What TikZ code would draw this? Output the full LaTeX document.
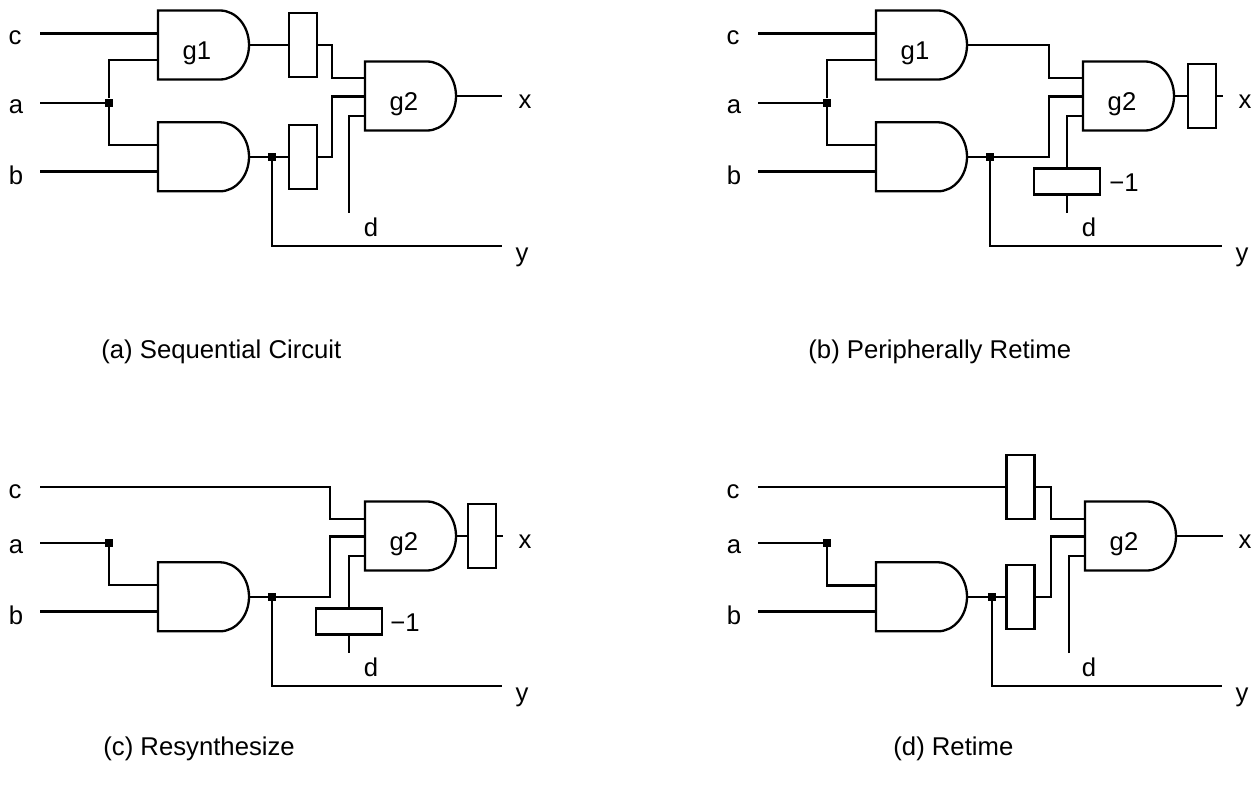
\documentclass[tikz,border=0pt]{standalone}
\usepackage{fontspec}
\setmainfont{Liberation Sans}

\tikzset{
  wire/.style={line width=1.15pt},
  lbl/.style={inner sep=0pt, font=\fontsize{12.85}{15}\selectfont},
  reg/.style={draw, line width=1.15pt, minimum width=14pt, minimum height=32pt, inner sep=0pt},
  negreg/.style={draw, line width=1.15pt, minimum width=33pt, minimum height=13pt, inner sep=0pt},
  joint/.style={fill, minimum size=4pt, inner sep=0pt},
}
% and gate: name, left edge, centre, text
\newcommand{\andgate}[4]{%
  \draw[wire] (#2,#3-34.5) -- ++(62,0)
    arc[start angle=-90, end angle=90, x radius=29, y radius=34.5]
    -- ++(-62,0) -- cycle;
  \node[lbl] (#1) at (#2+39,#3+8) {#4};
  \coordinate (#1-out) at (#2+91,#3);
}

\begin{document}
\begin{tikzpicture}[x=0.5pt, y=-0.5pt]
  \useasboundingbox (0,0) rectangle (1255,792);

  % (a) sequential circuit
  \begin{scope}[name prefix=a-]
    \node[lbl] (c) at (15,38) {c};
    \node[lbl] (a) at (16,107) {a};
    \node[lbl] (b) at (16,175) {b};
    \node[lbl] (x) at (525,102) {x};
    \node[lbl] (y) at (522,257) {y};
    \node[lbl] (d) at (371,227) {d};
    \coordinate (cin) at (40,33.5);
    \coordinate (ain) at (40,102.7);
    \coordinate (bin) at (40,171.5);
    \coordinate (dend) at (349,213);
    \coordinate (xend) at (502,96);
    \coordinate (yend) at (502,246);
    \andgate{g1}{158}{45}{g1}
    \coordinate (g1-in1) at (158,33.5);
    \coordinate (g1-in2) at (158,60);
    \andgate{g0}{158}{156.8}{}
    \coordinate (g0-in1) at (158,145);
    \coordinate (g0-in2) at (158,171.5);
    \andgate{g2}{365}{96}{g2}
    \coordinate (g2-in1) at (365,78.3);
    \coordinate (g2-in2) at (365,96.5);
    \coordinate (g2-in3) at (365,116.3);
    \node[joint] (ja) at (109,102.7) {};
    \node[joint] (jb) at (272,156.8) {};
    \node[reg] (r1) at (303,45) {};
    \node[reg] (r2) at (303,156.8) {};
    \draw[wire] (cin) -- (g1-in1);
    \draw[wire] (ain) -- (ja);
    \draw[wire] (ja) |- (g1-in2);
    \draw[wire] (ja) |- (g0-in1);
    \draw[wire] (bin) -- (g0-in2);
    \draw[wire] (g1-out) -- (r1.west);
    \draw[wire] (r1.east) -- ++(14,0) |- (g2-in1);
    \draw[wire] (g0-out) -- (jb) -- (r2.west);
    \draw[wire] (r2.east) -- ++(14,0) |- (g2-in2);
    \draw[wire] (dend) |- (g2-in3);
    \draw[wire] (g2-out) -- (xend);
    \draw[wire] (jb) |- (yend);
  \end{scope}

  % (b) peripherally retime
  \begin{scope}[shift={(718,0)}, name prefix=b-]
    \node[lbl] (c) at (15,38) {c};
    \node[lbl] (a) at (16,107) {a};
    \node[lbl] (b) at (16,175) {b};
    \node[lbl] (x) at (527,102) {x};
    \node[lbl] (y) at (524,257) {y};
    \node[lbl] (d) at (371,227) {d};
    \node[lbl] (m) at (406,183) {−1};
    \coordinate (cin) at (40,33.5);
    \coordinate (ain) at (40,102.7);
    \coordinate (bin) at (40,171.5);
    \coordinate (dend) at (349,213);
    \coordinate (xend) at (505,96);
    \coordinate (yend) at (504,246);
    \andgate{g1}{158}{45}{g1}
    \coordinate (g1-in1) at (158,33.5);
    \coordinate (g1-in2) at (158,60);
    \andgate{g0}{158}{156.8}{}
    \coordinate (g0-in1) at (158,145);
    \coordinate (g0-in2) at (158,171.5);
    \andgate{g2}{365}{96}{g2}
    \coordinate (g2-in1) at (365,78.3);
    \coordinate (g2-in2) at (365,96.5);
    \coordinate (g2-in3) at (365,116.3);
    \node[joint] (ja) at (109,102.7) {};
    \node[joint] (jb) at (272,156.8) {};
    \node[reg] (rx) at (484,96) {};
    \node[negreg] (rd) at (349,181.5) {};
    \draw[wire] (cin) -- (g1-in1);
    \draw[wire] (ain) -- (ja);
    \draw[wire] (ja) |- (g1-in2);
    \draw[wire] (ja) |- (g0-in1);
    \draw[wire] (bin) -- (g0-in2);
    \draw[wire] (g1-out) -- ++(82,0) |- (g2-in1);
    \draw[wire] (g0-out) -- (jb) -- ++(59,0) |- (g2-in2);
    \draw[wire] (rd.north) |- (g2-in3);
    \draw[wire] (rd.south) -- (dend);
    \draw[wire] (g2-out) -- (rx.west);
    \draw[wire] (rx.east) -- (xend);
    \draw[wire] (jb) |- (yend);
  \end{scope}

  % (c) resynthesize
  \begin{scope}[shift={(0,440)}, name prefix=c-]
    \node[lbl] (c) at (15,52) {c};
    \node[lbl] (a) at (16,107) {a};
    \node[lbl] (b) at (16,175) {b};
    \node[lbl] (x) at (525,102) {x};
    \node[lbl] (y) at (522,257) {y};
    \node[lbl] (d) at (371,227) {d};
    \node[lbl] (m) at (405,183) {−1};
    \coordinate (cin) at (40,47.3);
    \coordinate (ain) at (40,102.7);
    \coordinate (bin) at (40,171.5);
    \coordinate (dend) at (349,213);
    \coordinate (xend) at (503,96);
    \coordinate (yend) at (502,246);
    \andgate{g0}{158}{156.8}{}
    \coordinate (g0-in1) at (158,145);
    \coordinate (g0-in2) at (158,171.5);
    \andgate{g2}{365}{96}{g2}
    \coordinate (g2-in1) at (365,79);
    \coordinate (g2-in2) at (365,96.5);
    \coordinate (g2-in3) at (365,116.3);
    \node[joint] (ja) at (109,102.7) {};
    \node[joint] (jb) at (272,156.8) {};
    \node[reg] (rx) at (482,96) {};
    \node[negreg] (rd) at (349,181.5) {};
    \draw[wire] (cin) -- ++(290,0) |- (g2-in1);
    \draw[wire] (ain) -- (ja);
    \draw[wire] (ja) |- (g0-in1);
    \draw[wire] (bin) -- (g0-in2);
    \draw[wire] (g0-out) -- (jb) -- ++(58,0) |- (g2-in2);
    \draw[wire] (rd.north) |- (g2-in3);
    \draw[wire] (rd.south) -- (dend);
    \draw[wire] (g2-out) -- (rx.west);
    \draw[wire] (rx.east) -- (xend);
    \draw[wire] (jb) |- (yend);
  \end{scope}

  % (d) retime
  \begin{scope}[shift={(718,440)}, name prefix=d-]
    \node[lbl] (c) at (15,52) {c};
    \node[lbl] (a) at (16,107) {a};
    \node[lbl] (b) at (16,175) {b};
    \node[lbl] (x) at (527,102) {x};
    \node[lbl] (y) at (524,257) {y};
    \node[lbl] (d) at (371,227) {d};
    \coordinate (cin) at (40,47.3);
    \coordinate (ain) at (40,102.7);
    \coordinate (bin) at (40,171.5);
    \coordinate (dend) at (351,213);
    \coordinate (xend) at (505,96);
    \coordinate (yend) at (504,246);
    \andgate{g0}{158}{156.8}{}
    \coordinate (g0-in1) at (158,145.5);
    \coordinate (g0-in2) at (158,171.5);
    \andgate{g2}{367}{96}{g2}
    \coordinate (g2-in1) at (367,79);
    \coordinate (g2-in2) at (367,96.5);
    \coordinate (g2-in3) at (367,116.3);
    \node[joint] (ja) at (109,102.7) {};
    \node[joint] (jb) at (274,156.8) {};
    \node[reg] (r1) at (302.5,47.3) {};
    \node[reg] (r2) at (302.5,156.8) {};
    \draw[wire] (cin) -- (r1.west);
    \draw[wire] (r1.east) -- ++(15,0) |- (g2-in1);
    \draw[wire] (ain) -- (ja);
    \draw[wire] (ja) |- (g0-in1);
    \draw[wire] (bin) -- (g0-in2);
    \draw[wire] (g0-out) -- (jb) -- (r2.west);
    \draw[wire] (r2.east) -- ++(15,0) |- (g2-in2);
    \draw[wire] (dend) |- (g2-in3);
    \draw[wire] (g2-out) -- (xend);
    \draw[wire] (jb) |- (yend);
  \end{scope}

  % captions
  \node[lbl, anchor=west] (capa) at (101,352) {(a) Sequential Circuit};
  \node[lbl, anchor=west] (capb) at (808,352) {(b) Peripherally Retime};
  \node[lbl, anchor=west] (capc) at (103,749) {(c) Resynthesize};
  \node[lbl, anchor=west] (capd) at (893,749) {(d) Retime};
\end{tikzpicture}
\end{document}
